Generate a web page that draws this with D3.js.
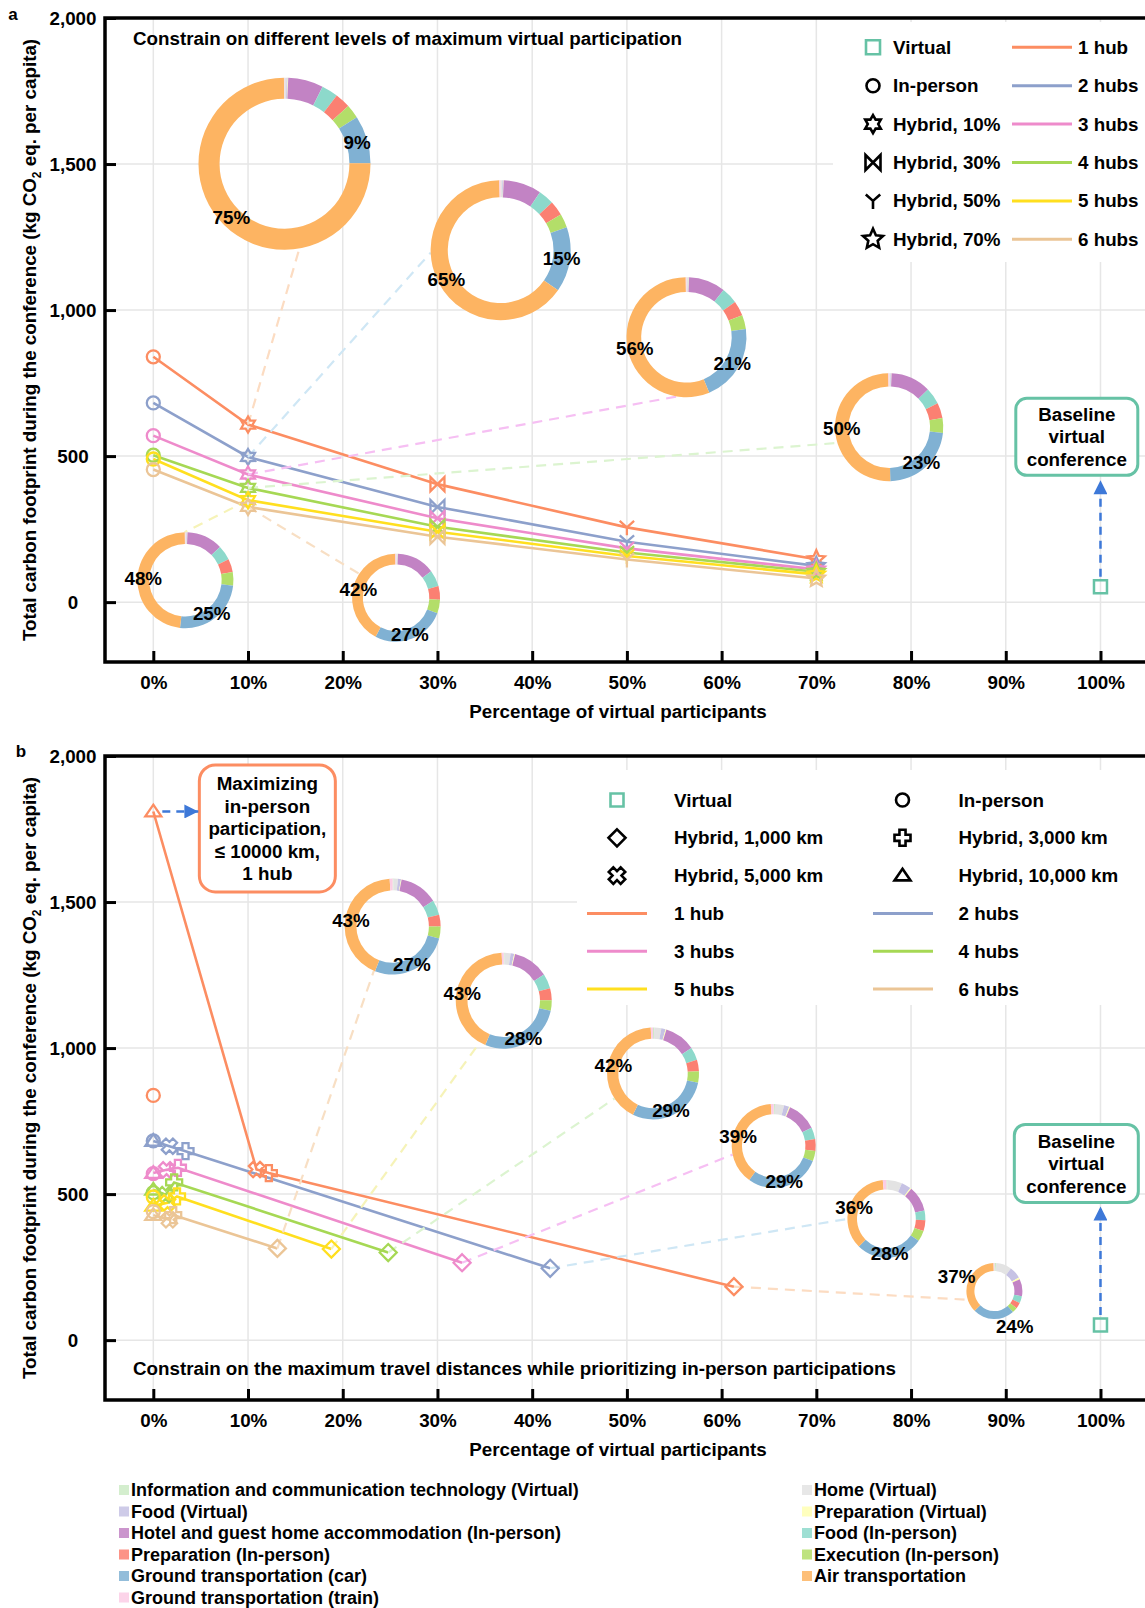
<!DOCTYPE html>
<html>
<head>
<meta charset="utf-8">
<script src="https://cdn.jsdelivr.net/npm/d3@7"></script>
<style>
  body { margin: 0; background: #fff; }
  svg { display: block; }
</style>
</head>
<body>
<div id="chart"></div>
<script>
// ---------- data ----------
const hubNames = ['1 hub', '2 hubs', '3 hubs', '4 hubs', '5 hubs', '6 hubs'];

// panel a: virtual share (%) and footprint per hub count (kg CO2 eq. per capita)
const pctA = [0, 10, 30, 50, 70];
const scenarioA = ['In-person', 'Hybrid, 10%', 'Hybrid, 30%', 'Hybrid, 50%', 'Hybrid, 70%'];
const kgA = [
    [840, 608, 404, 256, 147],
    [682, 497, 326, 207, 124],
    [570, 437, 287, 184, 112],
    [503, 391, 258, 170, 104],
    [490, 349, 241, 158, 95],
    [454, 326, 224, 146, 81]
];
const virtualKgA = 53;

// panel b: in-person, 10,000 km, 5,000 km, 3,000 km, 1,000 km
const scenarioB = ['In-person', 'Hybrid, 10,000 km', 'Hybrid, 5,000 km', 'Hybrid, 3,000 km', 'Hybrid, 1,000 km'];
const pctB = [
    [0, 0, 10.9, 12.2, 61.3],
    [0, 0, 1.7, 3.4, 41.9],
    [0, 0, 1.4, 2.6, 32.6],
    [0, 0, 1.3, 2.2, 24.8],
    [0, 0, 1.5, 2.5, 18.8],
    [0, 0, 1.7, 2.1, 13.1]
];
const kgB = [
    [838, 1810, 584, 572, 183],
    [682, 682, 664, 647, 246],
    [570, 572, 583, 590, 265],
    [505, 515, 498, 540, 300],
    [490, 460, 470, 492, 312],
    [440, 428, 412, 428, 314]
];
const virtualKgB = 52;

// emission sources shown in the donuts (share, %)
const sourceNames = [
    'Information and communication technology (Virtual)', 'Home (Virtual)',
    'Food (Virtual)', 'Preparation (Virtual)',
    'Hotel and guest home accommodation (In-person)', 'Food (In-person)',
    'Preparation (In-person)', 'Execution (In-person)',
    'Ground transportation (car)', 'Air transportation',
    'Ground transportation (train)'
];
// panel a donuts: Hybrid 10% for each hub count
const shareA = [
    [0.1, 0.3, 0.2, 0.1, 6.6, 3.1, 2.9, 2.6, 9, 75, 0.1],
    [0.1, 0.3, 0.2, 0.1, 8.8, 3.6, 3.4, 3.2, 15, 65, 0.3],
    [0.1, 0.3, 0.2, 0.1, 9.9, 4.4, 4.0, 3.8, 21, 56, 0.2],
    [0.1, 0.3, 0.2, 0.1, 12.0, 5.0, 4.6, 4.4, 23, 50, 0.3],
    [0.1, 0.3, 0.2, 0.1, 12.1, 5.0, 4.5, 4.5, 25, 48, 0.2],
    [0.1, 0.3, 0.2, 0.1, 14.0, 6.0, 5.0, 5.0, 27, 42, 0.3]
];
// panel b donuts: Hybrid 1,000 km for each hub count
const shareB = [
    [1.0, 9.0, 7.0, 1.0, 10.0, 4.0, 3.5, 3.0, 24, 37, 0.5],
    [0.5, 6.0, 4.0, 0.5, 10.5, 4.0, 4.5, 4.5, 28, 36, 1.5],
    [0.5, 3.5, 2.0, 0.4, 11.5, 4.5, 4.5, 4.0, 29, 39, 1.1],
    [0.4, 2.5, 1.5, 0.3, 11.0, 4.5, 4.0, 4.0, 29, 42, 0.8],
    [0.3, 2.0, 1.2, 0.3, 12.0, 5.0, 4.0, 3.5, 28, 43, 0.7],
    [0.3, 1.5, 1.0, 0.2, 13.0, 5.0, 4.0, 4.0, 27, 43, 1.0]
];

// ---------- styles / layout ----------
const FONT = '"Liberation Sans", Arial, Helvetica, sans-serif';
const FS = 18.8;
const hubColors = ['#fc8d62', '#8da0cb', '#ee8bcb', '#a6d854', '#ffdf1f', '#ebc596'];
const linkColors = ['#fcdcc2', '#cfe7f5', '#f6bff3', '#dcf4d0', '#f6f3b8', '#f8dfc4'];
const sourceColors = ['#ccebc5', '#e3e3e3', '#c6c2e4', '#ffffb3', '#c283c4', '#8dd9cb',
    '#fb8072', '#b3de69', '#80b1d3', '#fdb462', '#fccde5'];
const virtualColor = '#66c2a5';
const arrowColor = '#3d78d8';
const markA = ['circle', 'hexagram', 'bowtie', 'tridown', 'star'];
const sizeA = [6.5, 8, 7, 8, 9];
const markB = ['circle', 'triangle', 'cross', 'plus', 'diamond'];
const sizeB = [6.5, 8, 7.5, 8, 8.5];

// donut placement in data units (x: %, y: kg) with radius px and connector angle (deg)
const insetA = [
    { cx: 13.85, cy: 1501, r: 86, attach: 170 },
    { cx: 36.67, cy: 1205, r: 70, attach: 268 },
    { cx: 56.29, cy: 907, r: 60, attach: 189 },
    { cx: 77.7, cy: 599, r: 54, attach: 253 },
    { cx: 3.39, cy: 75, r: 48, attach: 359 },
    { cx: 25.63, cy: 15, r: 44, attach: 303 }
];
const insetB = [
    { cx: 88.8, cy: 168, r: 28, attach: 252, lab: 1.45, carAng: 150 },
    { cx: 77.4, cy: 415, r: 39, attach: 270 },
    { cx: 65.5, cy: 665, r: 42, attach: 258 },
    { cx: 52.76, cy: 913, r: 46, attach: 237 },
    { cx: 37.0, cy: 1162, r: 48, attach: 210 },
    { cx: 25.27, cy: 1416, r: 48, attach: 203 }
];

const W = 1145, H = 1608;
const svg = d3.select('#chart').append('svg')
    .attr('width', W).attr('height', H)
    .attr('font-family', FONT).attr('font-weight', 'bold');

const defs = svg.append('defs');
defs.append('marker').attr('id', 'arrow')
    .attr('viewBox', '0 0 10 10').attr('refX', 10).attr('refY', 5)
    .attr('markerUnits', 'userSpaceOnUse').attr('markerWidth', 15).attr('markerHeight', 14)
    .attr('orient', 'auto')
    .append('path').attr('d', 'M0,0L10,5L0,10Z').attr('fill', arrowColor);

const x = d3.scaleLinear().domain([-5.1, 104.7]).range([105, W]);

function symbolPath(type, R) {
    const poly = pts => 'M' + pts.map(p => p[0].toFixed(2) + ',' + p[1].toFixed(2)).join('L') + 'Z';
    const star = (n, inner) => {
        const pts = [];
        for (let i = 0; i < n * 2; i++) {
            const a = -Math.PI / 2 + i * Math.PI / n;
            const rr = i % 2 === 0 ? R : R * inner;
            pts.push([rr * Math.cos(a), rr * Math.sin(a)]);
        }
        return poly(pts);
    };
    const w = R * 0.38;
    const plus = [[-w, -R], [w, -R], [w, -w], [R, -w], [R, w], [w, w], [w, R], [-w, R], [-w, w], [-R, w], [-R, -w], [-w, -w]];
    switch (type) {
        case 'circle': return `M${R},0A${R},${R} 0 1,1 ${-R},0A${R},${R} 0 1,1 ${R},0Z`;
        case 'square': return `M${-R},${-R}H${R}V${R}H${-R}Z`;
        case 'diamond': return `M0,${-R}L${R},0L0,${R}L${-R},0Z`;
        case 'triangle': return `M0,${-R * 0.85}L${R},${R * 0.6}L${-R},${R * 0.6}Z`;
        case 'bowtie': return `M${-R},${-R}L${-R},${R}L${R},${-R}L${R},${R}Z`;
        case 'tridown': return `M0,0L0,${R}M0,0L${-R * 0.9},${-R * 0.8}M0,0L${R * 0.9},${-R * 0.8}`;
        case 'hexagram': return star(6, 0.58);
        case 'star': return star(5, 0.47);
        case 'plus': return poly(plus);
        case 'cross': {
            const c = Math.SQRT1_2;
            return poly(plus.map(p => [(p[0] - p[1]) * c * 1.05, (p[0] + p[1]) * c * 1.05]));
        }
    }
}

function makePanel(top, bottom) {
    const y = d3.scaleLinear().domain([-205, 2000]).range([bottom, top]);
    const g = svg.append('g');
    const grid = g.append('g');
    grid.selectAll('line.v').data(d3.range(0, 101, 10)).join('line').attr('class', 'v')
        .attr('x1', d => x(d)).attr('x2', d => x(d)).attr('y1', top).attr('y2', bottom)
        .attr('stroke', '#e6e6e6').attr('stroke-width', 1.5);
    grid.selectAll('line.h').data([0, 500, 1000, 1500]).join('line').attr('class', 'h')
        .attr('x1', 105).attr('x2', W).attr('y1', d => y(d)).attr('y2', d => y(d))
        .attr('stroke', '#e6e6e6').attr('stroke-width', 1.5);

    const layers = {
        y, top, bottom,
        back: g.append('g'), series: g.append('g'), conn: g.append('g'),
        marks: g.append('g'), insets: g.append('g'), notes: g.append('g'), axes: g.append('g')
    };

    layers.axes.append('g').attr('transform', `translate(0,${bottom})`)
        .call(d3.axisBottom(x).tickValues(d3.range(0, 101, 10)).tickFormat(d => d + '%')
            .tickSizeInner(-11).tickSizeOuter(0).tickPadding(14))
        .call(a => a.select('.domain').remove())
        .call(a => a.selectAll('.tick line').attr('stroke', '#000').attr('stroke-width', 3))
        .call(a => a.selectAll('.tick text').attr('fill', '#000'))
        .attr('font-size', FS).attr('font-family', FONT);

    layers.axes.append('g').attr('transform', 'translate(105,0)')
        .call(d3.axisLeft(y).tickValues([0, 500, 1000, 1500, 2000]).tickFormat(d3.format(','))
            .tickSizeInner(-11).tickSizeOuter(0))
        .call(a => a.select('.domain').remove())
        .call(a => a.selectAll('.tick line').attr('stroke', '#000').attr('stroke-width', 3))
        .call(a => a.selectAll('.tick text').attr('fill', '#000').attr('x', -32).attr('text-anchor', 'middle'))
        .attr('font-size', FS).attr('font-family', FONT);

    layers.axes.append('path')
        .attr('d', `M105,${bottom}V${top}M105,${top}H${W}M105,${bottom}H${W}`)
        .attr('fill', 'none').attr('stroke', '#000').attr('stroke-width', 3.5)
        .attr('stroke-linecap', 'square');

    layers.axes.append('text').attr('x', 618).attr('y', bottom + 49).attr('dy', '0.35em')
        .attr('text-anchor', 'middle').attr('font-size', FS).text('Percentage of virtual participants');

    const yl = layers.axes.append('text')
        .attr('transform', `translate(29,${(top + bottom) / 2}) rotate(-90)`)
        .attr('text-anchor', 'middle').attr('dy', '0.35em').attr('font-size', FS);
    yl.append('tspan').text('Total carbon footprint during the conference (kg CO');
    yl.append('tspan').attr('font-size', 12).attr('dy', 5).text('2');
    yl.append('tspan').attr('dy', -5).text(' eq. per capita)');
    return layers;
}

function marker(g, type, R, cx, cy, color, sw) {
    g.append('path').attr('d', symbolPath(type, R))
        .attr('transform', `translate(${cx},${cy})`)
        .attr('fill', 'none').attr('stroke', color).attr('stroke-width', sw || 2.3)
        .attr('stroke-linejoin', 'miter');
}

function donut(P, L, shares) {
    const cx = x(L.cx), cy = P.y(L.cy);
    const t = Math.max(8, L.r * 0.245);
    const arc = d3.arc().innerRadius(L.r - t).outerRadius(L.r);
    const arcs = d3.pie().sort(null).value(d => d)(shares);
    const dg = P.insets.append('g').attr('transform', `translate(${cx},${cy})`);
    dg.selectAll('path').data(arcs).join('path').attr('d', arc).attr('fill', (d, i) => sourceColors[i]);
    const lr = L.r * (L.lab || 0.88);
    const la = d3.arc().innerRadius(lr).outerRadius(lr);
    [8, 9].forEach(i => {
        let pos = la.centroid(arcs[i]);
        if (i === 8 && L.carAng !== undefined) {
            const a = L.carAng * Math.PI / 180;
            pos = [lr * Math.sin(a), -lr * Math.cos(a)];
        }
        dg.append('text').attr('transform', `translate(${pos})`)
            .attr('text-anchor', 'middle').attr('dy', '0.36em').attr('font-size', FS)
            .text(Math.round(shares[i]) + '%');
    });
}

function connector(P, px, py, L, color) {
    const cx = x(L.cx), cy = P.y(L.cy);
    const th = L.attach * Math.PI / 180;
    P.conn.append('line')
        .attr('x1', px).attr('y1', py)
        .attr('x2', cx + L.r * Math.sin(th)).attr('y2', cy - L.r * Math.cos(th))
        .attr('stroke', color).attr('stroke-width', 2.2)
        .attr('stroke-dasharray', '10,7');
}

function noteBox(P, N) {
    const cx = x(N.cx), cy = P.y(N.cy);
    P.notes.append('rect').attr('x', cx - N.w / 2).attr('y', cy - N.h / 2)
        .attr('width', N.w).attr('height', N.h).attr('rx', N.rx).attr('ry', N.rx)
        .attr('fill', '#fff').attr('stroke', N.color).attr('stroke-width', 3);
    N.lines.forEach((s, i) => {
        P.notes.append('text').attr('x', cx).attr('y', cy + (i - (N.lines.length - 1) / 2) * 22.5)
            .attr('dy', '0.35em').attr('text-anchor', 'middle').attr('font-size', FS).text(s);
    });
    return { left: cx - N.w / 2, bottom: cy + N.h / 2 };
}

function arrow(P, x1, y1, x2, y2) {
    P.notes.append('line').attr('x1', x1).attr('y1', y1).attr('x2', x2).attr('y2', y2)
        .attr('stroke', arrowColor).attr('stroke-width', 2.5).attr('stroke-dasharray', '8,6')
        .attr('marker-end', 'url(#arrow)');
}

const line = (P) => d3.line().x(d => x(d[0])).y(d => P.y(d[1]));

// ---------- panel a ----------
const A = makePanel(18, 662);
A.back.append('rect').attr('x', 833).attr('y', 22).attr('width', W - 833).attr('height', 240).attr('fill', '#fff');

hubNames.forEach((h, k) => {
    connector(A, x(pctA[1]), A.y(kgA[k][1]), insetA[k], linkColors[k]);
});
hubNames.forEach((h, k) => {
    const pts = pctA.map((p, i) => [p, kgA[k][i]]);
    A.series.append('path').datum(pts).attr('d', line(A))
        .attr('fill', 'none').attr('stroke', hubColors[k]).attr('stroke-width', 2.6);
    pts.forEach((p, i) => marker(A.marks, markA[i], sizeA[i], x(p[0]), A.y(p[1]), hubColors[k]));
});
hubNames.forEach((h, k) => donut(A, insetA[k], shareA[k]));
marker(A.marks, 'square', 6.5, x(100), A.y(virtualKgA), virtualColor, 2.5);

A.axes.append('text').attr('x', 133).attr('y', 38).attr('dy', '0.35em').attr('font-size', FS)
    .text('Constrain on different levels of maximum virtual participation');
A.axes.append('text').attr('x', 13).attr('y', 14).attr('dy', '0.35em').attr('text-anchor', 'middle')
    .attr('font-size', 17).text('a');

const boxA = noteBox(A, { cx: 97.5, cy: 566, w: 122, h: 77, rx: 11, color: virtualColor,
    lines: ['Baseline', 'virtual', 'conference'] });
arrow(A, x(100), A.y(virtualKgA) - 10, x(100), boxA.bottom + 5);

// legend a
const legA = A.notes.append('g');
['square'].concat(markA).forEach((m, i) => {
    const yy = 47.3 + i * 38.4;
    const R = [7, 6.5, 9, 7.5, 8, 10.5][i];
    marker(legA, m, R, 873, yy, i === 0 ? virtualColor : '#000', 2.6);
    legA.append('text').attr('x', 893).attr('y', yy).attr('dy', '0.35em').attr('font-size', FS)
        .text(i === 0 ? 'Virtual' : scenarioA[i - 1]);
});
hubNames.forEach((h, k) => {
    const yy = 47.3 + k * 38.4;
    legA.append('line').attr('x1', 1012).attr('x2', 1072).attr('y1', yy).attr('y2', yy)
        .attr('stroke', hubColors[k]).attr('stroke-width', 3);
    legA.append('text').attr('x', 1078).attr('y', yy).attr('dy', '0.35em').attr('font-size', FS).text(h);
});

// ---------- panel b ----------
const B = makePanel(756, 1400);
B.back.append('rect').attr('x', 577).attr('y', 770).attr('width', W - 577).attr('height', 235).attr('fill', '#fff');

hubNames.forEach((h, k) => {
    connector(B, x(pctB[k][4]), B.y(kgB[k][4]), insetB[k], linkColors[k]);
});
hubNames.forEach((h, k) => {
    const pts = pctB[k].map((p, i) => [p, kgB[k][i]]);
    B.series.append('path').datum(pts.slice(1)).attr('d', line(B))
        .attr('fill', 'none').attr('stroke', hubColors[k]).attr('stroke-width', 2.6);
    pts.forEach((p, i) => marker(B.marks, markB[i], sizeB[i], x(p[0]), B.y(p[1]), hubColors[k]));
});
hubNames.forEach((h, k) => donut(B, insetB[k], shareB[k]));
marker(B.marks, 'square', 6.5, x(100), B.y(virtualKgB), virtualColor, 2.5);

B.axes.append('text').attr('x', 133).attr('y', 1368.5).attr('dy', '0.35em').attr('font-size', FS)
    .text('Constrain on the maximum travel distances while prioritizing in-person participations');
B.axes.append('text').attr('x', 21).attr('y', 751).attr('dy', '0.35em').attr('text-anchor', 'middle')
    .attr('font-size', 17).text('b');

const boxB = noteBox(B, { cx: 97.45, cy: 605, w: 124, h: 78, rx: 11, color: virtualColor,
    lines: ['Baseline', 'virtual', 'conference'] });
arrow(B, x(100), B.y(virtualKgB) - 10, x(100), boxB.bottom + 4);

const boxM = noteBox(B, { cx: 12.04, cy: 1752, w: 136, h: 127, rx: 16, color: hubColors[0],
    lines: ['Maximizing', 'in-person', 'participation,', '\u2264 10000 km,', '1 hub'] });
arrow(B, x(pctB[0][1]) + 9, B.y(kgB[0][1]), boxM.left - 1, B.y(kgB[0][1]));

// legend b
const legB = B.notes.append('g');
const legBItems = [
    ['square', 'Virtual', 6.5], ['circle', scenarioB[0], 6.5],
    ['diamond', scenarioB[4], 8.5], ['plus', scenarioB[3], 8],
    ['cross', scenarioB[2], 8], ['triangle', scenarioB[1], 8]
];
legBItems.forEach((it, i) => {
    const col = i % 2, row = Math.floor(i / 2);
    const yy = 800 + row * 37.8;
    marker(legB, it[0], it[2], [617, 902.5][col], yy, i === 0 ? virtualColor : '#000', 2.6);
    legB.append('text').attr('x', [674, 958.5][col]).attr('y', yy).attr('dy', '0.35em')
        .attr('font-size', FS).text(it[1]);
});
hubNames.forEach((h, k) => {
    const col = k % 2, row = 3 + Math.floor(k / 2);
    const yy = 800 + row * 37.8;
    const x0 = [587, 873][col];
    legB.append('line').attr('x1', x0).attr('x2', x0 + 60).attr('y1', yy).attr('y2', yy)
        .attr('stroke', hubColors[k]).attr('stroke-width', 3);
    legB.append('text').attr('x', [674, 958.5][col]).attr('y', yy).attr('dy', '0.35em')
        .attr('font-size', FS).text(h);
});

// ---------- source legend ----------
const legS = svg.append('g');
sourceNames.forEach((s, i) => {
    const col = i % 2, row = Math.floor(i / 2);
    const xx = [119, 802][col], yy = 1490 + row * 21.5;
    legS.append('rect').attr('x', xx).attr('y', yy - 5).attr('width', 10).attr('height', 10)
        .attr('fill', sourceColors[i]).attr('fill-opacity', 0.85);
    legS.append('text').attr('x', xx + 12).attr('y', yy).attr('dy', '0.35em')
        .attr('font-size', 18).text(s);
});
</script>
</body>
</html>
